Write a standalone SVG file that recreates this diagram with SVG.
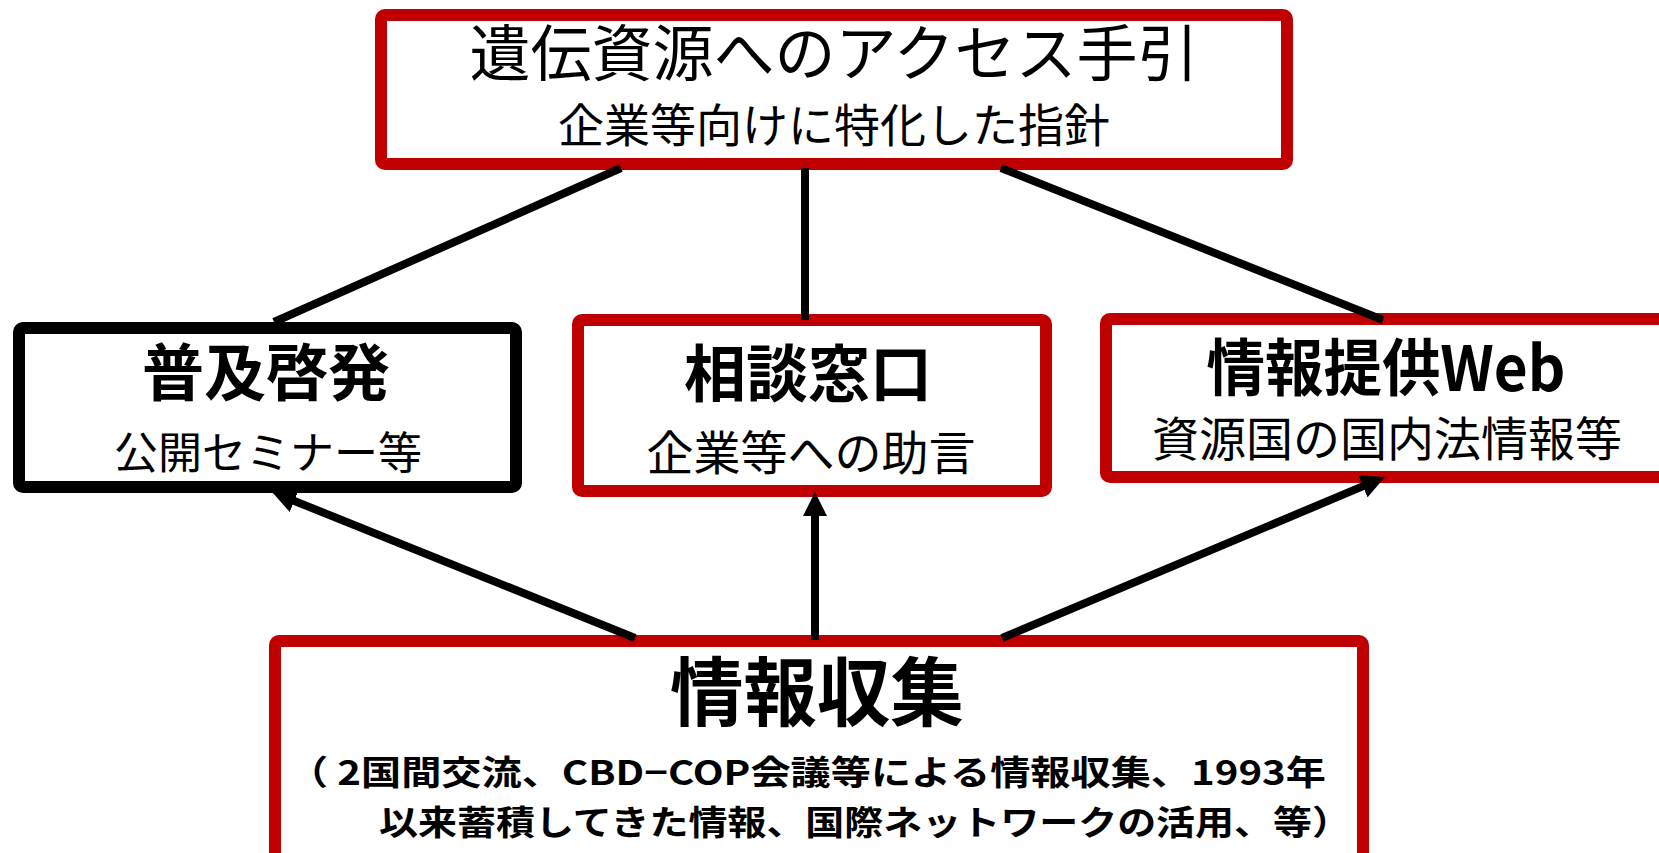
<svg xmlns="http://www.w3.org/2000/svg" width="1659" height="853" viewBox="0 0 1659 853">
<style>
.box{fill:#fff;stroke:#C00000;stroke-width:12;}
.bbox{fill:#fff;stroke:#000;stroke-width:12;}
text{font-family:"Noto Sans CJK JP","Noto Sans CJK SC",sans-serif;fill:#000;text-anchor:middle;}
.b{font-weight:bold;}
.ln{stroke:#000;stroke-width:8;fill:none;}
</style>
<defs>
<marker id="ah" markerUnits="userSpaceOnUse" markerWidth="24" markerHeight="24" refX="10" refY="12" orient="auto">
<path d="M0,0 L24,12 L0,24 z" fill="#000"/>
</marker>
</defs>
<rect width="1659" height="853" fill="#fff"/>
<g id="top">
<rect class="box" x="381" y="15" width="906" height="149" rx="4"/>
<text x="834" y="76" font-size="61">遺伝資源へのアクセス手引</text>
<text x="834" y="142" font-size="46">企業等向けに特化した指針</text>
</g>
<g id="fukyu">
<rect class="bbox" x="19" y="328" width="497" height="159" rx="4"/>
<text class="b" x="266" y="396" font-size="62">普及啓発</text>
<text x="268" y="469" font-size="44">公開セミナー等</text>
</g>
<g id="soudan">
<rect class="box" x="578" y="320" width="468" height="171" rx="4"/>
<text class="b" x="808" y="397" font-size="62">相談窓口</text>
<text x="811" y="470" font-size="47">企業等への助言</text>
</g>
<g id="web">
<rect class="box" x="1106" y="319" width="566" height="158" rx="4"/>
<text class="b" x="1386" y="391" font-size="62" textLength="359" lengthAdjust="spacingAndGlyphs">情報提供Web</text>
<text x="1387" y="456" font-size="47">資源国の国内法情報等</text>
</g>
<g id="shushu">
<rect class="box" x="275" y="641" width="1088" height="220" rx="4"/>
<text class="b" x="817" y="720" font-size="75" textLength="294" lengthAdjust="spacingAndGlyphs">情報収集</text>
<text class="b" x="807" y="785" font-size="34" textLength="1038" lengthAdjust="spacingAndGlyphs">（ 2国間交流、CBD−COP会議等による情報収集、1993年</text>
<text class="b" x="865" y="835" font-size="34" textLength="972" lengthAdjust="spacingAndGlyphs">以来蓄積してきた情報、国際ネットワークの活用、等）</text>
</g>
<g id="connectors">
<line class="ln" x1="621" y1="168" x2="274" y2="322"/>
<line class="ln" x1="805" y1="168" x2="805" y2="320"/>
<line class="ln" x1="1001" y1="168" x2="1383" y2="320"/>
<line class="ln" x1="635" y1="638" x2="285" y2="497.2" marker-end="url(#ah)"/>
<line class="ln" x1="815" y1="640" x2="815" y2="506" marker-end="url(#ah)"/>
<line class="ln" x1="1002" y1="638" x2="1372.1" y2="482.4" marker-end="url(#ah)"/>
</g>
</svg>
